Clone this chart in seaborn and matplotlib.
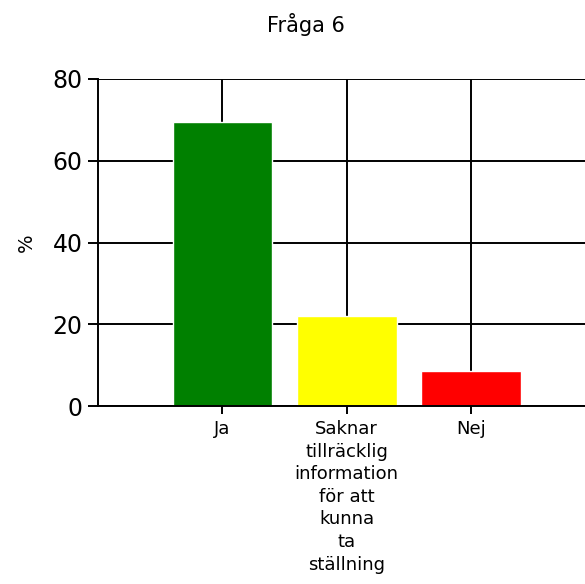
import pandas as pd
import seaborn as sns
import matplotlib.pyplot as plt

## data ------------------------------------------------------------------------
categories = ['Ja', 'Saknar\ntillräcklig\ninformation\nför att\nkunna\nta\nställning', 'Nej']
percent = [69.6, 22.1, 8.6]
bar_colors = ['#008000', '#ffff00', '#ff0000']
yticks = [0, 20, 40, 60, 80]

df = pd.DataFrame({'svar': categories, 'procent': percent})

## plot ------------------------------------------------------------------------
sns.set_style('white')
plt.rcParams['font.family'] = ['DejaVu Sans']
plt.rcParams['text.color'] = 'black'
plt.rcParams['xtick.color'] = 'black'
plt.rcParams['ytick.color'] = 'black'
plt.rcParams['axes.labelcolor'] = 'black'

fig = plt.figure(figsize=(5.85, 5.84), dpi=100)
ax = fig.add_axes([98 / 585, 1 - 406 / 584, (595.5 - 98) / 585, (406 - 79) / 584])

sns.barplot(data=df, x='svar', y='procent', hue='svar', palette=dict(zip(categories, bar_colors)),
            width=0.8, saturation=1, legend=False, ax=ax, zorder=3)

ax.set_xlim(-1, 3)
ax.set_ylim(0, 80)
ax.set_yticks(yticks)
ax.set_xticks(range(len(categories)))
ax.set_xticklabels(categories, fontsize=13, linespacing=1.33, va='top')
ax.set_yticklabels([str(v) for v in yticks], fontsize=17)

ax.grid(True, color='black', linewidth=1.4, zorder=0)
ax.set_axisbelow(True)
for s in ['top', 'right']:
    ax.spines[s].set_visible(False)
for s in ['left', 'bottom']:
    ax.spines[s].set_color('black')
    ax.spines[s].set_linewidth(1.4)
    ax.spines[s].set_zorder(4)

ax.tick_params(axis='y', left=True, direction='out', length=7, width=1.4, pad=4)
ax.tick_params(axis='x', bottom=True, direction='out', length=6, width=1.4, pad=4)
ax.set_xlabel('')
ax.set_ylabel('%', fontsize=14, labelpad=12)

fig.text(306 / 585, 1 - 25 / 584, 'Fråga 6', ha='center', va='center', fontsize=15)

fig.savefig('out.png', dpi=100)
